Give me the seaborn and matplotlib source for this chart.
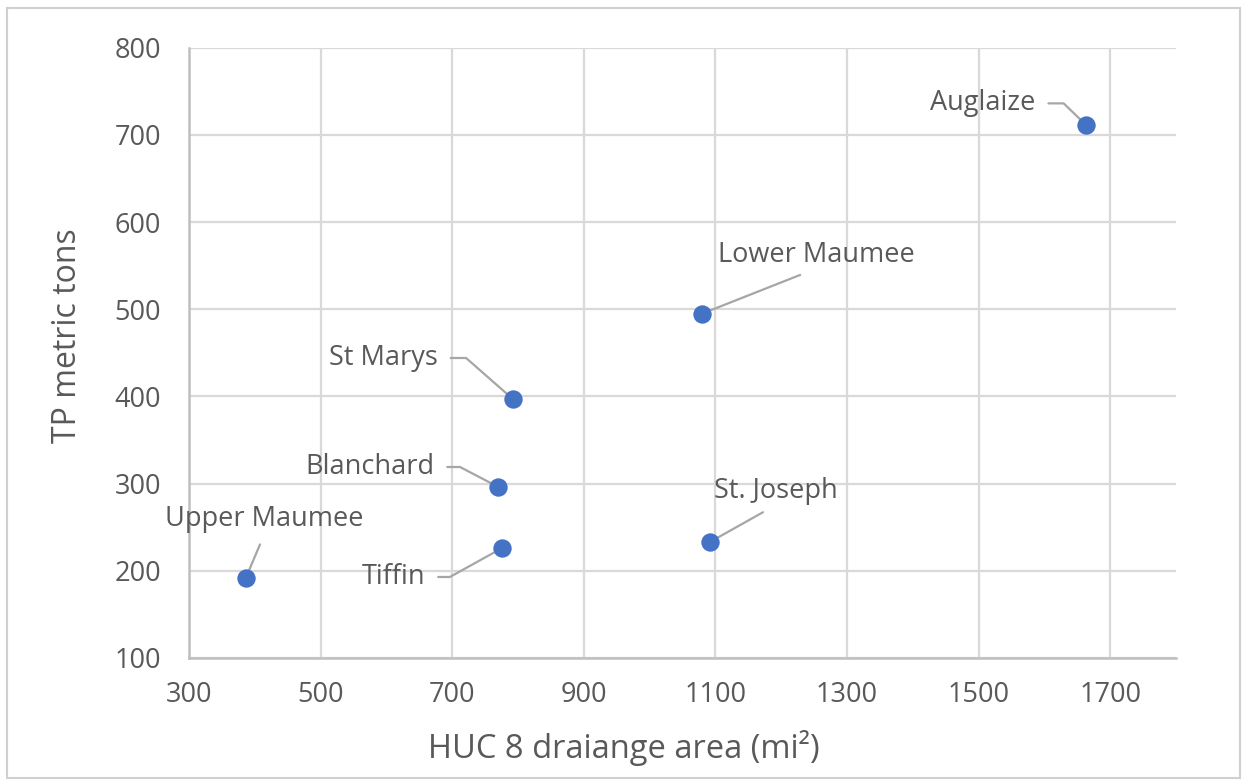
import matplotlib
matplotlib.use("Agg")
import matplotlib.pyplot as plt
from matplotlib.patches import Rectangle
import seaborn as sns
import pandas as pd

# Watershed (HUC 8) drainage area versus total phosphorus load
watersheds = ["Upper Maumee", "Tiffin", "Blanchard", "St Marys",
              "Lower Maumee", "St. Joseph", "Auglaize"]
area_mi2 = [386, 776, 770, 792, 1080, 1092, 1664]
tp_metric_tons = [191, 226, 296, 397, 495, 233, 711]

x_ticks = [300, 500, 700, 900, 1100, 1300, 1500, 1700]
y_ticks = [100, 200, 300, 400, 500, 600, 700, 800]

df = pd.DataFrame({"watershed": watersheds, "area": area_mi2, "tp": tp_metric_tons})

sns.set_theme(style="white")
plt.rcParams["font.family"] = ["Open Sans", "DejaVu Sans"]

TEXT = "#595959"
GRID = "#d9d9d9"
BLUE = "#4472c4"
LEADER = "#a6a6a6"

fig = plt.figure(figsize=(12.47, 7.84), dpi=100)
ax = fig.add_axes([0.1516, 0.161, 0.7914, 0.778])

sns.scatterplot(data=df, x="area", y="tp", ax=ax, s=175, color=BLUE,
                edgecolor=BLUE, linewidth=0, zorder=5, legend=False)

ax.set_xlim(300, 1800)
ax.set_ylim(100, 800)
ax.set_xticks(x_ticks)
ax.set_yticks(y_ticks)
ax.grid(True, color=GRID, linewidth=1.6)
ax.set_axisbelow(True)
for side in ("top", "right"):
    ax.spines[side].set_visible(False)
for side in ("left", "bottom"):
    ax.spines[side].set_color("#bfbfbf")
    ax.spines[side].set_linewidth(1.8)
ax.tick_params(axis="both", length=0, labelsize=19.5, colors=TEXT)
ax.tick_params(axis="y", pad=20)
ax.tick_params(axis="x", pad=17)

# Axis titles, placed in figure coordinates
ax.set_xlabel("HUC 8 draiange area (mi²)", fontsize=23.5, color=TEXT)
ax.set_ylabel("TP metric tons", fontsize=23, color=TEXT)
ax.xaxis.set_label_coords(0.5, 0.046, transform=fig.transFigure)
ax.xaxis.label.set_va("center")
ax.yaxis.set_label_coords(0.054, 0.572, transform=fig.transFigure)
ax.yaxis.label.set_va("center")

# Data labels: offset (px), alignment, leader style
px = 0.72  # points per pixel at 100 dpi
labels = {
    "Upper Maumee": dict(off=(19, -59), ha="center", kind="straight"),
    "Tiffin": dict(off=(-77, 29), ha="right", kind="angle", ang=29),
    "Blanchard": dict(off=(-64, -20), ha="right", kind="angle", ang=-27.6),
    "St Marys": dict(off=(-75, -41), ha="right", kind="angle", ang=-41.3),
    "Lower Maumee": dict(off=(114, -59), ha="center", kind="straight"),
    "St. Joseph": dict(off=(66, -51), ha="center", kind="straight"),
    "Auglaize": dict(off=(-51, -22), ha="right", kind="angle", ang=-44),
}

for name, xv, yv in zip(watersheds, area_mi2, tp_metric_tons):
    spec = labels[name]
    dx, dy = spec["off"]
    if spec["kind"] == "angle":
        arrow = dict(arrowstyle="-", color=LEADER, lw=1.6,
                     connectionstyle=f"angle,angleA=0,angleB={spec['ang']},rad=0",
                     relpos=(1.0, 0.5), shrinkA=7, shrinkB=0)
    else:
        arrow = dict(arrowstyle="-", color=LEADER, lw=1.6,
                     connectionstyle="arc3,rad=0",
                     relpos=(0.5, 0.0), shrinkA=6, shrinkB=0)
    ax.annotate(name, xy=(xv, yv), xytext=(dx * px, -dy * px),
                textcoords="offset points", ha=spec["ha"], va="center",
                fontsize=19.5, color=TEXT, arrowprops=arrow, zorder=4)

# Thin frame around the whole chart area
fig.patches.append(Rectangle((0.006, 0.008), 0.988, 0.982, transform=fig.transFigure,
                             fill=False, edgecolor="#d0d0d0", linewidth=1.5))

fig.savefig("out.png", dpi=100, facecolor="white")
